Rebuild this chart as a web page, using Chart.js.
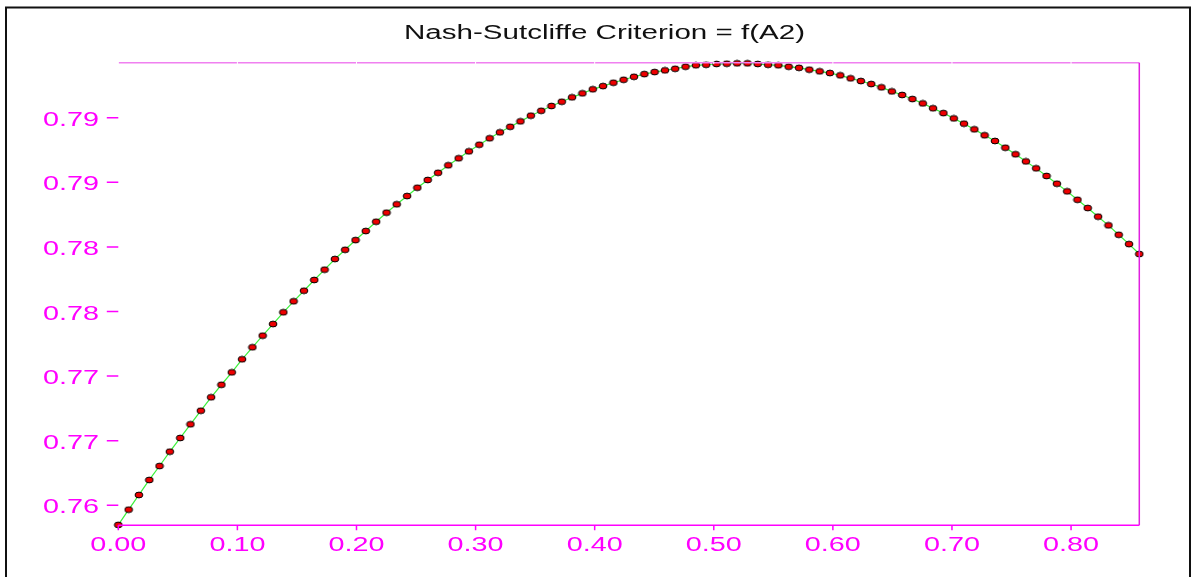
<!DOCTYPE html>
<html>
<head>
<meta charset="utf-8">
<script src="https://cdn.jsdelivr.net/npm/chart.js@4"></script>
<style>
  html, body { margin: 0; padding: 0; background: #fff; }
  canvas { display: block; }
</style>
</head>
<body>
<canvas id="chart" width="1197" height="577"></canvas>
<script>
const title = 'Nash-Sutcliffe Criterion = f(A2)';

// A2 parameter values (100 runs)
const a2 = [
  0.0000, 0.0087, 0.0173, 0.0260, 0.0346, 0.0433, 0.0520, 0.0606, 0.0693, 0.0779,
  0.0866, 0.0953, 0.1039, 0.1126, 0.1212, 0.1299, 0.1386, 0.1472, 0.1559, 0.1645,
  0.1732, 0.1819, 0.1905, 0.1992, 0.2078, 0.2165, 0.2252, 0.2338, 0.2425, 0.2511,
  0.2598, 0.2685, 0.2771, 0.2858, 0.2944, 0.3031, 0.3118, 0.3204, 0.3291, 0.3377,
  0.3464, 0.3551, 0.3637, 0.3724, 0.3810, 0.3897, 0.3984, 0.4070, 0.4157, 0.4243,
  0.4330, 0.4417, 0.4503, 0.4590, 0.4676, 0.4763, 0.4850, 0.4936, 0.5023, 0.5109,
  0.5196, 0.5283, 0.5369, 0.5456, 0.5542, 0.5629, 0.5716, 0.5802, 0.5889, 0.5975,
  0.6062, 0.6149, 0.6235, 0.6322, 0.6408, 0.6495, 0.6582, 0.6668, 0.6755, 0.6841,
  0.6928, 0.7015, 0.7101, 0.7188, 0.7274, 0.7361, 0.7448, 0.7534, 0.7621, 0.7707,
  0.7794, 0.7881, 0.7967, 0.8054, 0.8140, 0.8227, 0.8314, 0.8400, 0.8487, 0.8573
];

// Nash-Sutcliffe criterion for each run
const nash = [
  0.76098, 0.76216, 0.76330, 0.76446, 0.76554, 0.76665, 0.76771, 0.76877, 0.76982, 0.77086,
  0.77183, 0.77279, 0.77380, 0.77473, 0.77563, 0.77653, 0.77744, 0.77829, 0.77911, 0.77994,
  0.78074, 0.78156, 0.78228, 0.78303, 0.78373, 0.78445, 0.78515, 0.78580, 0.78644, 0.78708,
  0.78768, 0.78824, 0.78882, 0.78936, 0.78990, 0.79041, 0.79091, 0.79137, 0.79180, 0.79222,
  0.79266, 0.79304, 0.79341, 0.79374, 0.79408, 0.79439, 0.79470, 0.79495, 0.79521, 0.79544,
  0.79567, 0.79588, 0.79604, 0.79617, 0.79629, 0.79645, 0.79656, 0.79660, 0.79666, 0.79668,
  0.79671, 0.79671, 0.79666, 0.79660, 0.79656, 0.79645, 0.79636, 0.79622, 0.79609, 0.79596,
  0.79578, 0.79555, 0.79534, 0.79511, 0.79485, 0.79454, 0.79426, 0.79395, 0.79361, 0.79323,
  0.79286, 0.79245, 0.79204, 0.79160, 0.79114, 0.79070, 0.79018, 0.78967, 0.78912, 0.78858,
  0.78799, 0.78739, 0.78680, 0.78615, 0.78551, 0.78484, 0.78417, 0.78344, 0.78272, 0.78195
];

const yTicks = [0.7625, 0.7675, 0.7725, 0.7775, 0.7825, 0.7875, 0.7925];
const yTickLabels = ['0.76', '0.77', '0.77', '0.78', '0.78', '0.79', '0.79'];
const xTicks = [0, 0.1, 0.2, 0.3, 0.4, 0.5, 0.6, 0.7, 0.8];
const xTickLabels = ['0.00', '0.10', '0.20', '0.30', '0.40', '0.50', '0.60', '0.70', '0.80'];

const MAGENTA = '#ff00ff';
const FONT = '20px "Liberation Sans", Arial, sans-serif';

// small flat ellipse marker, the source picture is stretched sideways
function makeMarker() {
  const c = document.createElement('canvas');
  c.width = 10;
  c.height = 8;
  const g = c.getContext('2d');
  g.beginPath();
  g.ellipse(5, 4, 3.9, 2.9, 0, 0, Math.PI * 2);
  g.fillStyle = '#ee0000';
  g.fill();
  g.lineWidth = 1;
  g.strokeStyle = '#000';
  g.stroke();
  return c;
}

function wideText(ctx, text, x, y, align, width) {
  ctx.save();
  const sx = width / ctx.measureText(text).width;
  ctx.translate(x, y);
  ctx.scale(sx, 1);
  ctx.textAlign = align;
  ctx.fillText(text, 0, 0);
  ctx.restore();
}

const frame = {
  id: 'frame',
  beforeDraw(chart) {
    const ctx = chart.ctx;
    ctx.save();
    ctx.fillStyle = '#fff';
    ctx.fillRect(0, 0, chart.width, chart.height);
    ctx.strokeStyle = '#111';
    ctx.lineWidth = 2;
    ctx.beginPath();
    ctx.moveTo(6, chart.height);
    ctx.lineTo(6, 7.5);
    ctx.lineTo(1190, 7.5);
    ctx.lineTo(1190, chart.height);
    ctx.stroke();
    ctx.restore();
  },
  afterDraw(chart) {
    const ctx = chart.ctx;
    const {left, right, top, bottom} = chart.chartArea;
    const xs = chart.scales.x, ys = chart.scales.y;
    ctx.save();

    // top line, pale, with gaps at the ticks
    ctx.lineWidth = 1.5;
    ctx.strokeStyle = '#f080f0';
    ctx.beginPath();
    ctx.moveTo(left, top);
    ctx.lineTo(right, top);
    ctx.stroke();
    ctx.fillStyle = '#fff';
    xTicks.forEach(v => ctx.fillRect(xs.getPixelForValue(v) - 0.5, top - 1.5, 1, 3));

    // right + bottom lines
    ctx.strokeStyle = '#e020e0';
    ctx.beginPath();
    ctx.moveTo(right, top);
    ctx.lineTo(right, bottom);
    ctx.stroke();
    ctx.strokeStyle = MAGENTA;
    ctx.beginPath();
    ctx.moveTo(left, bottom);
    ctx.lineTo(right, bottom);
    ctx.stroke();

    // tick marks
    ctx.beginPath();
    yTicks.forEach(v => {
      const y = ys.getPixelForValue(v);
      ctx.moveTo(left - 11.5, y);
      ctx.lineTo(left, y);
    });
    xTicks.forEach(v => {
      const x = xs.getPixelForValue(v);
      ctx.moveTo(x, bottom);
      ctx.lineTo(x, bottom + 5);
    });
    ctx.stroke();

    // labels
    ctx.font = FONT;
    ctx.fillStyle = MAGENTA;
    ctx.textBaseline = 'alphabetic';
    yTicks.forEach((v, i) => {
      wideText(ctx, yTickLabels[i], 99, ys.getPixelForValue(v) + 8, 'right', 56);
    });
    xTicks.forEach((v, i) => {
      wideText(ctx, xTickLabels[i], xs.getPixelForValue(v), 551, 'center', 56);
    });

    ctx.fillStyle = '#111';
    wideText(ctx, title, 604.5, 39, 'center', 401);
    ctx.restore();
  }
};

new Chart(document.getElementById('chart'), {
  type: 'line',
  data: {
    datasets: [{
      data: a2.map((x, i) => ({x, y: nash[i]})),
      borderColor: '#3bf03b',
      borderWidth: 1.2,
      pointStyle: makeMarker(),
      pointRadius: 4,
      tension: 0,
      clip: false
    }]
  },
  options: {
    responsive: false,
    animation: false,
    events: [],
    layout: {
      padding: {left: 118.3, right: 57.7, top: 62.7, bottom: 51.7}
    },
    plugins: {
      legend: {display: false},
      tooltip: {enabled: false},
      title: {display: false}
    },
    scales: {
      x: {type: 'linear', min: 0, max: 0.8573, display: false},
      y: {type: 'linear', min: 0.76095, max: 0.79676, display: false}
    }
  },
  plugins: [frame]
});
</script>
</body>
</html>
